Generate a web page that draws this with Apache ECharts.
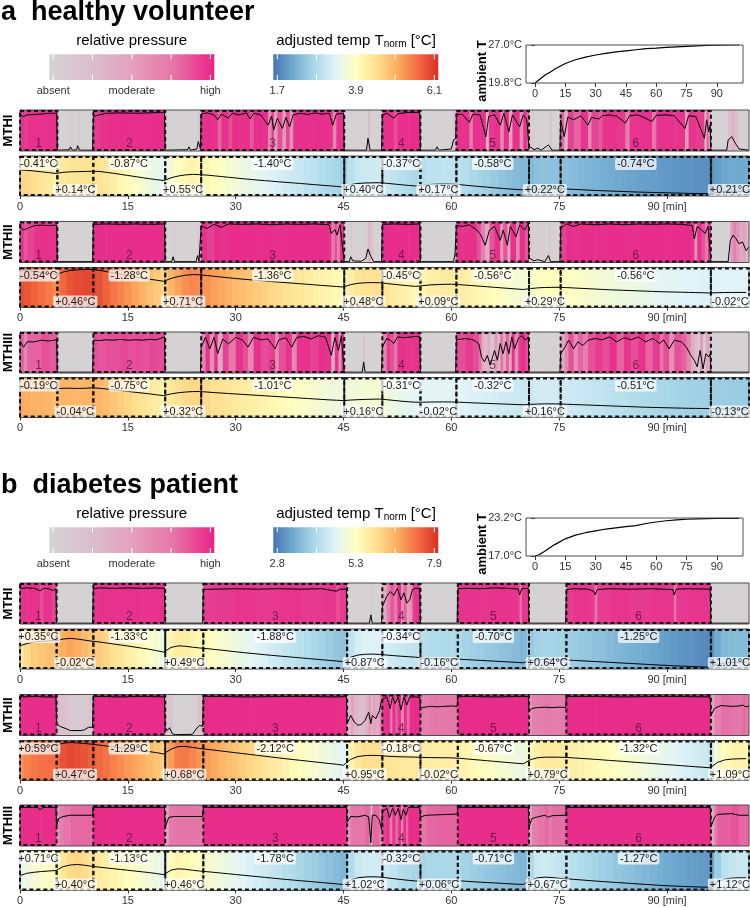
<!DOCTYPE html>
<html>
<head>
<meta charset="utf-8">
<script src="https://cdn.jsdelivr.net/npm/echarts@6/dist/echarts.min.js"></script>
<style>
html,body{margin:0;padding:0;background:#fff}
#chart{width:750px;height:908px}
</style>
</head>
<body>
<div id="chart"></div>
<script>
// ---------- data ----------
var tEnd = 101.4;
var minutes = [];
for (var m = 0; m <= 101; m++) minutes.push(m);

// loading phases (start, end) in minutes
var segA = [[0,5.2],[10.2,20.2],[25.2,45.1],[50.4,55.7],[60.7,70.8],[75.2,96.1]];
var segB = [[0,5.1],[10.2,20.2],[25.5,45.5],[50.4,55.7],[60.9,70.8],[76.0,96.1]];

// temperature change per phase / pause
var deltaA = [
  ['-0.41','+0.14','-0.87','+0.55','-1.40','+0.40','-0.37','+0.17','-0.58','+0.22','-0.74','+0.21'],
  ['-0.54','+0.46','-1.28','+0.71','-1.36','+0.48','-0.45','+0.09','-0.56','+0.29','-0.56','-0.02'],
  ['-0.19','-0.04','-0.75','+0.32','-1.01','+0.16','-0.31','-0.02','-0.32','+0.16','-0.51','-0.13']
];
var deltaB = [
  ['+0.35','-0.02','-1.33','+0.49','-1.88','+0.87','-0.34','-0.16','-0.70','+0.64','-1.25','+1.01'],
  ['+0.59','+0.47','-1.29','+0.68','-2.12','+0.95','-0.18','-0.02','-0.67','+0.79','-1.32','+1.09'],
  ['+0.71','+0.40','-1.13','+0.46','-1.78','+1.02','-0.32','+0.06','-0.71','+0.67','-1.27','+1.12']
];

var rangeA = [1.7, 6.1], rangeB = [2.8, 7.9];
var tickA = ['1.7','3.9','6.1'], tickB = ['2.8','5.3','7.9'];
var presTicks = ['absent','moderate','high'];
var rowNames = ['MTHI','MTHII','MTHIII'];

// adjusted temperature, one value per minute (0..101)
var tempA1 = [4.58,4.52,4.45,4.36,4.27,4.18,4.30,4.36,4.38,4.40, 4.42,4.40,4.30,4.20,4.08,3.96,3.84,3.72,3.60,3.50,
  3.40,3.70,3.90,4.02,4.08,4.05,4.00,3.92,3.84,3.76, 3.68,3.60,3.53,3.46,3.39,3.33,3.26,3.20,3.14,3.08,
  3.01,2.95,2.88,2.82,2.76,2.68,2.95,3.08,3.13,3.15, 3.16,3.10,3.02,2.94,2.87,2.80,2.90,2.97,3.00,3.01,
  3.00,2.96,2.88,2.81,2.74,2.67,2.60,2.54,2.48,2.42, 2.37,2.42,2.48,2.50,2.51,2.50,2.47,2.43,2.39,2.35,
  2.31,2.28,2.25,2.22,2.19,2.16,2.13,2.11,2.09,2.07, 2.05,2.03,2.01,1.99,1.97,1.96,1.95,2.10,2.18,2.21, 2.22,2.23];
var tempA2 = [5.85,5.75,5.65,5.55,5.45,5.32,5.60,5.78,5.85,5.88, 5.88,5.80,5.65,5.50,5.36,5.22,5.08,4.95,4.82,4.70,
  4.58,4.90,5.10,5.25,5.32,5.30,5.22,5.13,5.05,4.97, 4.89,4.82,4.75,4.68,4.61,4.55,4.49,4.43,4.37,4.31,
  4.25,4.19,4.13,4.07,4.01,3.95,4.22,4.36,4.42,4.44, 4.42,4.34,4.25,4.17,4.09,4.02,4.10,4.18,4.22,4.25,
  4.26,4.22,4.16,4.10,4.04,3.98,3.92,3.86,3.80,3.74, 3.68,3.78,3.86,3.90,3.92,3.92,3.89,3.85,3.81,3.77,
  3.73,3.69,3.65,3.62,3.59,3.56,3.53,3.50,3.47,3.44, 3.42,3.40,3.38,3.36,3.34,3.32,3.30,3.33,3.35,3.36, 3.36,3.36];
var tempA3 = [5.05,5.00,4.96,4.93,4.90,4.86,4.92,4.92,4.90,4.91, 4.96,4.92,4.84,4.75,4.66,4.57,4.48,4.39,4.30,4.20,
  4.10,4.30,4.42,4.50,4.55,4.56,4.50,4.44,4.39,4.34, 4.29,4.24,4.19,4.14,4.09,4.04,3.99,3.94,3.89,3.84,
  3.79,3.74,3.69,3.64,3.60,3.56,3.62,3.66,3.69,3.71, 3.73,3.66,3.58,3.50,3.43,3.38,3.38,3.40,3.41,3.42,
  3.41,3.38,3.35,3.31,3.28,3.25,3.22,3.19,3.16,3.13, 3.10,3.14,3.18,3.20,3.20,3.19,3.16,3.13,3.10,3.07,
  3.04,3.01,2.98,2.95,2.92,2.89,2.86,2.83,2.81,2.79, 2.77,2.75,2.73,2.71,2.70,2.69,2.68,2.66,2.64,2.63, 2.62,2.62];
var tempB1 = [5.77,6.05,6.25,6.33,6.38,6.41,6.62,6.70,6.62,6.48, 6.35,6.25,6.12,5.99,5.86,5.73,5.59,5.45,5.31,5.14,
  4.95,5.55,5.75,5.70,5.58,5.48,5.40,5.30,5.20,5.10, 5.00,4.90,4.81,4.72,4.63,4.54,4.46,4.38,4.30,4.22,
  4.14,4.06,3.98,3.90,3.82,3.75,4.30,4.58,4.68,4.70, 4.66,4.58,4.50,4.43,4.37,4.31,4.20,4.14,4.12,4.10,
  4.09,4.06,4.00,3.95,3.90,3.85,3.80,3.75,3.70,3.65, 3.59,3.85,3.98,4.02,4.02,3.99,3.95,3.90,3.85,3.80,
  3.75,3.70,3.65,3.60,3.55,3.50,3.45,3.40,3.35,3.30, 3.26,3.21,3.17,3.13,3.09,3.05,3.02,3.40,3.58,3.64, 3.66,3.66];
var tempB2 = [6.90,7.05,7.15,7.22,7.26,7.28,7.55,7.65,7.60,7.52, 7.42,7.32,7.20,7.08,6.96,6.84,6.72,6.60,6.48,6.35,
  6.18,6.80,7.12,7.15,7.02,6.88,6.78,6.67,6.56,6.45, 6.34,6.23,6.12,6.01,5.90,5.79,5.68,5.57,5.47,5.37,
  5.27,5.17,5.07,4.97,4.87,4.75,5.50,5.85,5.98,6.00, 5.98,5.90,5.85,5.82,5.80,5.78,5.74,5.72,5.71,5.70,
  5.69,5.64,5.56,5.48,5.40,5.32,5.24,5.16,5.08,5.00, 4.93,5.45,5.70,5.77,5.78,5.77,5.74,5.68,5.62,5.56,
  5.50,5.43,5.36,5.30,5.23,5.16,5.09,5.03,4.96,4.89, 4.82,4.76,4.69,4.62,4.55,4.49,4.42,5.10,5.42,5.53, 5.57,5.58];
var tempB3 = [4.71,5.00,5.13,5.22,5.29,5.35,5.85,6.05,6.12,6.02, 5.88,5.78,5.68,5.58,5.48,5.38,5.28,5.18,5.08,4.96,
  4.82,5.40,5.57,5.50,5.38,5.28,5.20,5.11,5.02,4.93, 4.84,4.75,4.66,4.57,4.48,4.39,4.30,4.21,4.13,4.05,
  3.97,3.89,3.81,3.73,3.65,3.56,4.15,4.42,4.52,4.55, 4.52,4.42,4.31,4.20,4.10,4.02,4.00,4.04,4.07,4.08,
  4.08,4.04,3.98,3.92,3.86,3.81,3.76,3.71,3.66,3.61, 3.57,4.10,4.42,4.50,4.45,4.35,4.29,4.22,4.15,4.08,
  4.01,3.94,3.88,3.82,3.76,3.70,3.64,3.58,3.52,3.46, 3.41,3.37,3.33,3.29,3.26,3.23,3.21,3.90,4.25,4.38, 4.42,4.42];

// relative pressure [minute, value]
var presA1 = [[0,0.88],[0.5,0.84],[1,0.88],[2,0.89],[3,0.9],[4,0.92],[5.1,0.92],[5.2,0.02],[6.9,0.03],[7,0.1],[7.3,0.02],[7.9,0.03],[8,0.13],[8.3,0.02],[10.1,0.02],
  [10.2,0.84],[11,0.88],[12,0.92],[14,0.93],[16,0.92],[18,0.93],[20.1,0.94],[20.2,0.02],[23.3,0.03],[23.5,0.1],[23.7,0.02],[24.6,0.05],[24.8,0.23],[25.1,0.05],
  [25.2,0.9],[26,0.93],[27,0.88],[27.5,0.76],[28,0.9],[29,0.8],[29.5,0.92],[30.5,0.88],[31.5,0.93],[32,0.78],[32.5,0.92],[33.5,0.88],[34.5,0.63],[35,0.85],[35.3,0.51],[35.8,0.8],[36.5,0.55],[37,0.82],[37.5,0.59],[38,0.88],[39,0.92],[40,0.89],[41,0.93],[42,0.9],[43,0.92],[43.5,0.63],[44,0.9],[45,0.92],
  [45.1,0.02],[48.2,0.02],[48.4,0.31],[48.7,0.02],[50.3,0.02],[50.4,0.88],[51,0.92],[52,0.8],[52.5,0.9],[53,0.92],[54,0.94],[55.6,0.94],[55.7,0.02],[57.8,0.02],[58,0.1],[58.3,0.02],[60,0.05],[60.3,0.27],[60.6,0.3],
  [60.7,0.88],[61.5,0.9],[62.5,0.7],[63,0.9],[64,0.88],[64.8,0.35],[65.2,0.85],[66,0.88],[66.8,0.63],[67.3,0.92],[68,0.47],[68.5,0.88],[69.5,0.59],[70,0.88],[70.5,0.76],
  [70.8,0.05],[71,0.1],[71.5,0.03],[72,0.07],[72.5,0.02],[73.5,0.15],[74,0.02],[75.1,0.02],
  [75.2,0.76],[75.7,0.35],[76.2,0.83],[77,0.76],[78,0.86],[79,0.63],[79.5,0.82],[80.5,0.78],[81,0.86],[82,0.88],[83,0.85],[84.2,0.68],[84.8,0.86],[86,0.88],[87.9,0.72],[88.5,0.87],[90,0.88],[91,0.86],[92.5,0.55],[93,0.86],[94,0.84],[95.2,0.31],[95.5,0.76],[95.8,0.47],[96,0.63],
  [96.1,0.02],[98.3,0.02],[98.5,0.27],[99,0.35],[99.5,0.19],[100,0.05],[101.4,0.02]];
var presA2 = [[0,0.87],[0.5,0.79],[1,0.83],[2,0.9],[3,0.91],[4,0.9],[5.1,0.91],[5.2,0.02],[10.1,0.02],
  [10.2,0.93],[12,0.94],[14,0.93],[16,0.94],[18,0.93],[20.1,0.94],[20.2,0.02],[21.1,0.02],[21.3,0.14],[21.5,0.02],[24.5,0.02],[24.7,0.17],[24.9,0.02],
  [25.2,0.9],[26,0.83],[27,0.93],[28,0.86],[29,0.94],[31,0.93],[33,0.94],[35,0.92],[37,0.94],[39,0.93],[41,0.94],[43,0.92],[43.3,0.71],[43.8,0.8],[44.1,0.67],[44.5,0.92],
  [45.1,0.02],[45.8,0.02],[46,0.14],[46.3,0.04],[47.5,0.03],[48.1,0.1],[48.4,0.33],[48.8,0.15],[49.2,0.02],[50.3,0.02],
  [50.4,0.93],[52,0.94],[54,0.93],[55.6,0.94],[55.7,0.02],[60.3,0.02],[60.5,0.2],
  [60.7,0.9],[61.5,0.88],[62.5,0.92],[63.5,0.8],[64.1,0.67],[64.7,0.42],[65.3,0.79],[66,0.88],[66.8,0.54],[67.2,0.79],[67.8,0.42],[68.2,0.88],[69,0.63],[69.5,0.92],[70.2,0.79],[70.7,0.95],
  [70.8,0.11],[71.5,0.04],[72,0.07],[73,0.02],[73.5,0.17],[73.8,0.02],[75.1,0.02],
  [75.2,0.83],[76,0.94],[77,0.88],[78,0.94],[80,0.92],[82,0.94],[84,0.92],[86,0.94],[88,0.93],[90,0.94],[92,0.93],[93.5,0.9],[93.8,0.58],[94.2,0.88],[94.8,0.79],[95.3,0.71],[95.7,0.88],
  [96.1,0.02],[98.5,0.02],[98.8,0.54],[99.2,0.67],[99.6,0.58],[100,0.46],[100.5,0.5],[101,0.29],[101.4,0.38]];
var presA3 = [[0,0.78],[0.5,0.63],[1,0.76],[2,0.76],[3,0.8],[4,0.78],[5.1,0.81],[5.2,0.02],[10.1,0.02],
  [10.2,0.8],[11,0.79],[12,0.81],[13,0.8],[14,0.82],[15,0.8],[16,0.81],[17,0.8],[18,0.82],[19,0.81],[20.1,0.88],[20.2,0.02],[25.1,0.02],
  [25.2,0.63],[25.8,0.87],[26.4,0.59],[27,0.87],[27.5,0.47],[28.2,0.83],[29,0.71],[30,0.87],[31,0.8],[31.7,0.63],[32.5,0.87],[33.5,0.81],[34.5,0.83],[35.5,0.59],[36,0.81],[37,0.86],[37.8,0.63],[38.5,0.87],[39.5,0.89],[40.5,0.83],[41.5,0.91],[42.5,0.87],[43.3,0.43],[43.8,0.87],[44.3,0.55],[44.7,0.91],
  [45.1,0.02],[47.6,0.02],[47.8,0.27],[48,0.02],[50.3,0.02],
  [50.4,0.63],[51,0.84],[51.5,0.8],[52,0.72],[52.5,0.88],[53.5,0.86],[55,0.89],[55.6,0.88],[55.7,0.02],[60.6,0.02],
  [60.7,0.81],[62,0.84],[63,0.81],[63.8,0.72],[64.2,0.39],[64.6,0.27],[65,0.43],[65.4,0.19],[66,0.55],[66.4,0.31],[66.8,0.72],[67.2,0.47],[67.6,0.76],[68,0.47],[68.4,0.88],[68.8,0.59],[69.3,0.84],[69.8,0.91],[70.3,0.8],[70.7,0.88],
  [70.8,0.02],[75.1,0.02],
  [75.2,0.47],[75.8,0.63],[76.3,0.8],[77,0.59],[77.6,0.76],[78.3,0.67],[79,0.8],[80,0.84],[81,0.81],[82,0.88],[83,0.76],[84,0.86],[85,0.81],[86,0.88],[87,0.76],[88,0.84],[89,0.72],[89.5,0.81],[90.3,0.59],[91,0.8],[92,0.76],[92.7,0.63],[93.3,0.43],[93.8,0.31],[94.2,0.15],[94.6,0.55],[95,0.1],[95.4,0.47],[95.8,0.39],[96,0.47],
  [96.1,0.02],[98.5,0.02],[98.7,0.06],[98.9,0.02],[101.4,0.02]];
var presB1 = [[0,0.87],[1,0.88],[2,0.87],[2.8,0.81],[3.3,0.87],[4,0.86],[4.5,0.82],[5,0.85],[5.1,0.02],[10.1,0.02],
  [10.2,0.86],[11,0.88],[13,0.87],[15,0.88],[17,0.87],[19,0.88],[20.1,0.87],[20.2,0.02],[25.4,0.02],
  [25.5,0.84],[27,0.85],[30,0.86],[33,0.85],[36,0.86],[39,0.85],[42,0.86],[44,0.8],[44.5,0.85],[45.4,0.85],
  [45.5,0.02],[48.6,0.02],[48.8,0.22],[49,0.02],[50.3,0.02],
  [50.4,0.42],[51,0.67],[51.5,0.79],[52,0.7],[52.5,0.87],[53,0.59],[53.4,0.76],[53.8,0.51],[54.2,0.59],[54.6,0.84],[55,0.87],[55.6,0.86],[55.7,0.02],[60.8,0.02],
  [60.9,0.86],[62,0.87],[64,0.86],[66,0.88],[68,0.87],[69.3,0.85],[69.5,0.71],[69.8,0.86],[70.7,0.87],[70.8,0.02],[75.9,0.02],
  [76,0.84],[77,0.86],[79,0.85],[79.8,0.8],[80,0.71],[80.3,0.84],[82,0.86],[85,0.85],[88,0.86],[90.8,0.84],[91,0.71],[91.3,0.85],[93,0.86],[96,0.85],
  [96.1,0.02],[101.4,0.02]];
var presB2 = [[0,0.94],[2,0.95],[4,0.94],[5,0.94],[5.1,0.29],[5.6,0.22],[6.5,0.16],[7,0.12],[8.5,0.12],[9,0.14],[9.5,0.2],[10.1,0.2],
  [10.2,0.95],[12,0.95],[14,0.94],[16,0.95],[18,0.95],[20.1,0.94],[20.2,0.2],[20.5,0.12],[20.8,0.19],[21.2,0.04],[21.6,0.02],[24,0.03],[24.5,0.16],[25,0.25],[25.4,0.22],
  [25.5,0.95],[28,0.95],[32,0.94],[36,0.95],[40,0.95],[44,0.94],[45.4,0.95],
  [45.5,0.29],[46,0.49],[46.5,0.33],[47,0.25],[47.5,0.27],[48,0.37],[48.5,0.57],[48.8,0.29],[49,0.49],[49.5,0.41],[50,0.61],[50.3,0.86],
  [50.4,0.88],[51,0.94],[51.5,0.66],[51.8,0.94],[52.2,0.78],[52.6,0.94],[53,0.62],[53.4,0.94],[53.8,0.74],[54.2,0.94],[55,0.94],[55.6,0.93],
  [55.7,0.66],[56,0.68],[57,0.71],[58,0.7],[59,0.71],[60,0.72],[60.8,0.71],
  [60.9,0.95],[63,0.95],[66,0.94],[69,0.95],[70.7,0.95],[70.8,0.58],[71.2,0.66],[72,0.68],[73,0.69],[74,0.68],[75,0.69],[75.9,0.68],
  [76,0.95],[80,0.95],[84,0.94],[88,0.95],[92,0.95],[96,0.94],
  [96.1,0.49],[96.6,0.66],[97.5,0.73],[99,0.71],[100,0.72],[100.5,0.74],[101,0.7],[101.4,0.72]];
var presB3 = [[0,0.94],[2.5,0.94],[2.8,0.88],[3.2,0.94],[5,0.94],[5.1,0.5],[5.4,0.67],[6,0.72],[7,0.75],[10.1,0.75],
  [10.2,0.94],[20.1,0.94],[20.2,0.46],[20.7,0.7],[21.5,0.72],[25.4,0.72],
  [25.5,0.94],[45.4,0.94],[45.5,0.58],[46,0.72],[47,0.71],[48,0.75],[48.5,0.71],[48.8,0.08],[49,0.75],[49.5,0.75],[50,0.63],[50.3,0.39],
  [50.4,0.83],[51,0.92],[51.4,0.69],[51.8,0.92],[52.2,0.75],[52.6,0.92],[53,0.64],[53.3,0.89],[53.7,0.75],[54,0.94],[55.6,0.94],
  [55.7,0.71],[56.5,0.75],[58,0.76],[60.8,0.78],[60.9,0.94],[70.7,0.94],
  [70.8,0.46],[71.2,0.67],[72,0.71],[73,0.75],[73.5,0.7],[74,0.74],[75.9,0.75],
  [76,0.94],[96,0.94],[96.1,0.46],[96.6,0.7],[97,0.77],[99,0.79],[100,0.75],[101.4,0.75]];

// ambient temperature
var ambTime = [0,2,5,8,10,15,20,25,30,35,40,45,50,55,60,65,70,75,80,85,90,95,101];
var ambA = [19.8,20.4,21.3,22.0,22.5,23.5,24.2,24.7,25.1,25.4,25.7,25.9,26.1,26.3,26.4,26.55,26.65,26.75,26.85,26.92,26.97,27.0,27.0];
var ambB = [17.0,17.2,17.8,18.5,18.9,19.8,20.4,20.8,21.1,21.4,21.6,21.8,21.95,22.3,22.55,22.75,22.9,23.0,23.05,23.1,23.15,23.15,23.15];
var ambRangeA = [19.8, 27.0], ambRangeB = [17.0, 23.2];
var ambTicks = [0,15,30,45,60,75,90];

// ---------- colours ----------
var FONT = '"Liberation Sans", Arial, Helvetica, sans-serif';
var presStops = [[0,[212,212,212]],[0.25,[219,191,203]],[0.5,[226,162,190]],[0.72,[228,118,168]],[0.86,[231,52,141]],[1,[232,40,138]]];
var presLegend = [[0,[212,212,212]],[0.25,[219,191,203]],[0.5,[227,161,189]],[0.75,[230,118,166]],[1,[232,36,136]]];
var tempHex = ['#4575b4','#74add1','#abd9e9','#e0f3f8','#ffffbf','#fee090','#fdae61','#f46d43','#d73027'];
var tempStops = tempHex.map(function (h, i) {
  return [i / (tempHex.length - 1), [parseInt(h.substr(1,2),16), parseInt(h.substr(3,2),16), parseInt(h.substr(5,2),16)]];
});

function colorAt(stops, f) {
  f = Math.max(0, Math.min(1, f));
  for (var i = 1; i < stops.length; i++) {
    if (f <= stops[i][0]) {
      var a = stops[i-1], b = stops[i], k = (f - a[0]) / (b[0] - a[0]);
      return 'rgb(' + [0,1,2].map(function (j) { return Math.round(a[1][j] + (b[1][j] - a[1][j]) * k); }).join(',') + ')';
    }
  }
  return 'rgb(' + stops[stops.length-1][1].join(',') + ')';
}
function gradient(stops) {
  return {type:'linear', x:0, y:0, x2:1, y2:0,
    colorStops: stops.map(function (s) { return {offset:s[0], color:'rgb(' + s[1].join(',') + ')'}; })};
}

// ---------- layout ----------
var STRIP_L = 20, STRIP_W = 729;
var presTop = [110, 221.5, 332], tempTop = [156, 267.5, 377.5];
var PRES_H = 41, TEMP_H = 40;

var option = {animation:false, backgroundColor:'#fff', grid:[], xAxis:[], yAxis:[], series:[], graphic:{elements:[]}};
var G = option.graphic.elements;

function addGrid(g, xa, ya) {
  option.grid.push(g);
  var gi = option.grid.length - 1;
  xa.gridIndex = gi; ya.gridIndex = gi;
  option.xAxis.push(xa); option.yAxis.push(ya);
  return gi;
}
function frame(x, y, w, h) {
  G.push({type:'rect', z:4, silent:true, shape:{x:x, y:y, width:w, height:h},
    style:{fill:'transparent', stroke:'#4d4d4d', lineWidth:1}});
}
function txt(x, y, s, font, extra) {
  var el = {type:'text', x:x, y:y, z:20, silent:true,
    style:{text:s, font:font, fill:'#000', align:'center', verticalAlign:'middle'}};
  if (extra) for (var k in extra) el[k] = extra[k];
  G.push(el);
  return el;
}

function heatSeries(gi, rows, colorOf) {
  return {type:'custom', xAxisIndex:gi, yAxisIndex:gi, clip:true, z:1, silent:true,
    data:rows, encode:{x:[0,1], y:2},
    renderItem:function (params, api) {
      var cs = params.coordSys;
      var x0 = api.coord([api.value(0), 0])[0], x1 = api.coord([api.value(1), 0])[0];
      if (x1 - x0 <= 0) return null;
      return {type:'rect', shape:{x:x0, y:cs.y, width:x1 - x0 + 0.6, height:cs.height},
        style:{fill:colorOf(api.value(2))}};
    }};
}
function lineSeries(gi, data) {
  return {type:'line', xAxisIndex:gi, yAxisIndex:gi, data:data, symbol:'none', silent:true, z:3,
    lineStyle:{color:'#000', width:1}};
}
function dashedRect(cs, x0, x1) {
  return {type:'rect', shape:{x:x0, y:cs.y + 1, width:x1 - x0, height:cs.height - 2},
    style:{fill:'transparent', stroke:'#111', lineWidth:2, lineDash:[4,3]}};
}

function presBoxSeries(gi, seg) {
  return {type:'custom', xAxisIndex:gi, yAxisIndex:gi, clip:false, z:5, silent:true,
    data:seg.map(function (s) { return [s[0], s[1]]; }), encode:{x:[0,1]},
    renderItem:function (params, api) {
      var cs = params.coordSys;
      var x0 = api.coord([api.value(0), 0])[0], x1 = api.coord([api.value(1), 0])[0];
      return {type:'group', children:[
        dashedRect(cs, x0, x1),
        {type:'text', x:(x0 + x1) / 2, y:cs.y + cs.height - 7,
          style:{text:String(params.dataIndex + 1), font:'12px ' + FONT, fill:'rgba(60,15,40,0.7)',
            align:'center', verticalAlign:'middle'}}
      ]};
    }};
}
function tempBoxSeries(gi, seg, delta) {
  var boxes = [];
  seg.forEach(function (s, i) {
    boxes.push([s[0], s[1], delta[2*i], 0]);
    boxes.push([s[1], i < seg.length - 1 ? seg[i+1][0] : tEnd, delta[2*i+1], 1]);
  });
  return {type:'custom', xAxisIndex:gi, yAxisIndex:gi, clip:false, z:5, silent:true,
    data:boxes.map(function (b) { return [b[0], b[1]]; }), encode:{x:[0,1]},
    renderItem:function (params, api) {
      var cs = params.coordSys, b = boxes[params.dataIndex];
      var x0 = api.coord([b[0], 0])[0], x1 = api.coord([b[1], 0])[0];
      return {type:'group', children:[
        dashedRect(cs, x0, x1),
        {type:'text', z2:10, x:(x0 + x1) / 2, y:b[3] ? cs.y + cs.height - 6 : cs.y + 8,
          style:{text:b[2] + '°C', font:'11px ' + FONT, fill:'#1a1a1a', align:'center', verticalAlign:'middle',
            backgroundColor:'rgba(255,255,255,0.72)', padding:[1,2,0,2], borderRadius:2}}
      ]};
    }};
}

var panels = [
  {dy:0, title:'a  healthy volunteer', seg:segA, range:rangeA, ticks:tickA,
   temp:[tempA1,tempA2,tempA3], pres:[presA1,presA2,presA3], delta:deltaA, amb:ambA, ambRange:ambRangeA},
  {dy:473, title:'b  diabetes patient', seg:segB, range:rangeB, ticks:tickB,
   temp:[tempB1,tempB2,tempB3], pres:[presB1,presB2,presB3], delta:deltaB, amb:ambB, ambRange:ambRangeB}
];

panels.forEach(function (pn) {
  var dy = pn.dy;
  txt(1, 13 + dy, pn.title, 'bold 27px ' + FONT, null).style.align = 'left';

  // colour bar legends
  var barY = 54.3 + dy, barH = 25.7, barW = 165;
  [[49.3, presLegend, presTicks], [273.3, tempStops, pn.ticks]].forEach(function (lg) {
    var bx = lg[0];
    G.push({type:'rect', z:10, silent:true, shape:{x:bx, y:barY, width:barW, height:barH}, style:{fill:gradient(lg[1])}});
    [0.024, 0.262, 0.5, 0.738, 0.976].forEach(function (f) {
      var x = bx + f * barW;
      G.push({type:'line', z:11, silent:true, shape:{x1:x, y1:barY, x2:x, y2:barY + 5}, style:{stroke:'#fff', lineWidth:1}});
      G.push({type:'line', z:11, silent:true, shape:{x1:x, y1:barY + barH - 5, x2:x, y2:barY + barH}, style:{stroke:'#fff', lineWidth:1}});
    });
    [0.024, 0.5, 0.976].forEach(function (f, i) {
      txt(bx + f * barW, 90.7 + dy, lg[2][i], '11px ' + FONT, null).style.fill = '#333';
    });
  });
  txt(131.7, 40.5 + dy, 'relative pressure', '15px ' + FONT, null);
  G.push({type:'text', x:356, y:40.5 + dy, z:20, silent:true,
    style:{text:'adjusted temp T{s|norm} [°C]', font:'15px ' + FONT, fill:'#000', align:'center', verticalAlign:'middle',
      rich:{s:{fontSize:10, fontFamily:FONT, fill:'#000', padding:[7,0,0,0]}}}});

  // ambient temperature inset
  var ag = addGrid({left:526, top:45 + dy, width:217, height:38},
    {type:'value', min:-4.5, max:103, splitLine:{show:false}, axisLine:{show:false},
      axisTick:{show:true, length:4, customValues:ambTicks, lineStyle:{color:'#333'}},
      axisLabel:{customValues:ambTicks, fontSize:11, fontFamily:FONT, color:'#333', margin:5}},
    {type:'value', min:pn.ambRange[0], max:pn.ambRange[1], splitLine:{show:false}, axisLine:{show:false},
      axisTick:{show:true, length:4, customValues:pn.ambRange, lineStyle:{color:'#333'}},
      axisLabel:{customValues:pn.ambRange, fontSize:11, fontFamily:FONT, color:'#333', margin:4,
        formatter:function (v) { return v.toFixed(1) + '°C'; }}});
  option.series.push({type:'line', xAxisIndex:ag, yAxisIndex:ag, symbol:'none', silent:true,
    data:ambTime.map(function (t, i) { return [t, pn.amb[i]]; }), lineStyle:{color:'#000', width:1.2}});
  frame(526, 45 + dy, 217, 38);
  txt(482, 71 + dy, 'ambient T', 'bold 13px ' + FONT, {rotation:Math.PI / 2});

  var tempColor = function (v) { return colorAt(tempStops, (v - pn.range[0]) / (pn.range[1] - pn.range[0])); };
  var presColor = function (v) { return colorAt(presStops, v); };

  [0, 1, 2].forEach(function (r) {
    // pressure strip
    var pTop = presTop[r] + dy;
    var pg = addGrid({left:STRIP_L, top:pTop, width:STRIP_W, height:PRES_H},
      {type:'value', min:0, max:tEnd, show:false},
      {type:'value', min:0, max:1, show:false});
    var pr = pn.pres[r];
    option.series.push(heatSeries(pg, pr.map(function (d, i) {
      return [d[0], i < pr.length - 1 ? pr[i+1][0] : tEnd, d[1]];
    }), presColor));
    option.series.push(lineSeries(pg, pr));
    option.series.push(presBoxSeries(pg, pn.seg));
    frame(STRIP_L, pTop, STRIP_W, PRES_H);
    txt(8, pTop + PRES_H / 2, rowNames[r], 'bold 13px ' + FONT, {rotation:Math.PI / 2});

    // temperature strip
    var tTop = tempTop[r] + dy;
    var tv = pn.temp[r];
    var tg = addGrid({left:STRIP_L, top:tTop, width:STRIP_W, height:TEMP_H},
      {type:'value', min:0, max:tEnd, splitLine:{show:false}, axisLine:{show:false},
        axisTick:{show:true, length:3, customValues:ambTicks, lineStyle:{color:'#333'}},
        axisLabel:{customValues:ambTicks, fontSize:11, fontFamily:FONT, color:'#333', margin:5,
          formatter:function (v) { return v === 90 ? '90 [min]' : String(v); }}},
      {type:'value', min:pn.range[0], max:pn.range[1], show:false});
    option.series.push(heatSeries(tg, minutes.map(function (t, i) {
      return [Math.max(0, t - 0.5), Math.min(tEnd, t + 0.5), tv[i]];
    }), tempColor));
    option.series.push(lineSeries(tg, minutes.map(function (t, i) { return [t, tv[i]]; })));
    option.series.push(tempBoxSeries(tg, pn.seg, pn.delta[r]));
    frame(STRIP_L, tTop, STRIP_W, TEMP_H);
  });
});

var chart = echarts.init(document.getElementById('chart'), null, {renderer:'canvas'});
chart.setOption(option);
</script>
</body>
</html>
